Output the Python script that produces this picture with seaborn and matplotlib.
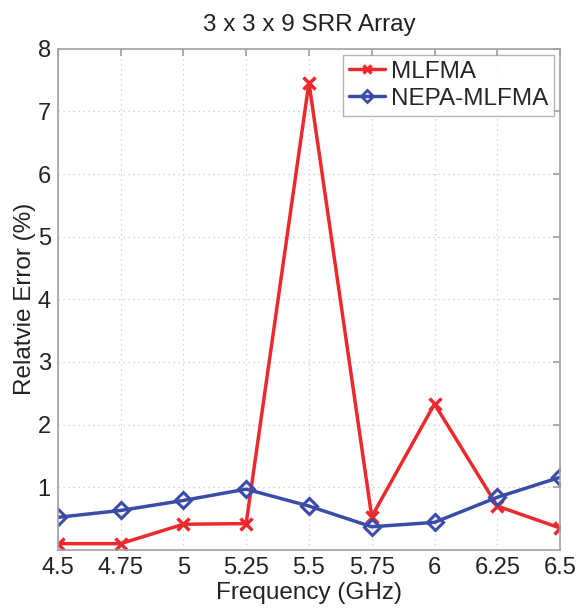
import matplotlib
matplotlib.use("Agg")
import matplotlib.pyplot as plt
import seaborn as sns
from matplotlib.lines import Line2D

freq = [4.5, 4.75, 5.0, 5.25, 5.5, 5.75, 6.0, 6.25, 6.5]
freq_labels = ["4.5", "4.75", "5", "5.25", "5.5", "5.75", "6", "6.25", "6.5"]
mlfma = [0.10, 0.10, 0.41, 0.42, 7.46, 0.53, 2.33, 0.70, 0.35]
nepa_mlfma = [0.52, 0.63, 0.79, 0.97, 0.70, 0.37, 0.44, 0.84, 1.16]

sns.set_theme(style="white")
plt.rcParams["font.family"] = ["Liberation Sans", "DejaVu Sans"]

fig = plt.figure(figsize=(5.78, 6.09), dpi=100)
ax = fig.add_axes([0.100, 0.097, 0.869, 0.823])

red = "#ec2a2e"
blue = "#3a4ca8"
sns.lineplot(x=freq, y=mlfma, color=red, marker="x", markersize=8,
             markeredgewidth=2.5, markeredgecolor=red, linewidth=2.5, ax=ax)
sns.lineplot(x=freq, y=nepa_mlfma, color=blue, marker="D", markersize=8.5,
             markeredgewidth=2.2, markeredgecolor=blue, markerfacecolor="none",
             linewidth=2.5, ax=ax)

ax.set_xlim(4.5, 6.5)
ax.set_ylim(0, 8)
ax.set_xticks(freq)
ax.set_xticklabels(freq_labels)
ax.set_yticks(range(1, 9))
ax.grid(True, linestyle=(0, (1, 3)), color="#c8c8c8", linewidth=0.9)

for s in ax.spines.values():
    s.set_color("#a0a0a8")
    s.set_linewidth(1.2)
ax.tick_params(direction="in", length=5, color="#a0a0a8", top=True, right=True,
               labelsize=17, labelcolor="#222222", pad=5)

ax.set_title("3 x 3 x 9 SRR Array", fontsize=17.5, color="#222222", pad=13)
ax.set_xlabel("Frequency (GHz)", fontsize=17.5, color="#222222", labelpad=2)
ax.set_ylabel("Relatvie Error (%)", fontsize=17.5, color="#222222", labelpad=1)

handles = [
    Line2D([], [], color=red, marker="x", lw=2.5, ms=6, mew=2.5),
    Line2D([], [], color=blue, marker="D", lw=2.5, ms=6, mew=2, mfc="none"),
]
leg = ax.legend(handles, ["MLFMA", "NEPA-MLFMA"], loc="upper right",
                fontsize=17.5, frameon=True, fancybox=False, handlelength=1.45,
                handletextpad=0.25, borderpad=0.25, labelspacing=0.2,
                borderaxespad=0.25)
leg.get_frame().set_edgecolor("#a0a0a8")
leg.get_frame().set_linewidth(1.0)

fig.savefig("out.png", dpi=100)
